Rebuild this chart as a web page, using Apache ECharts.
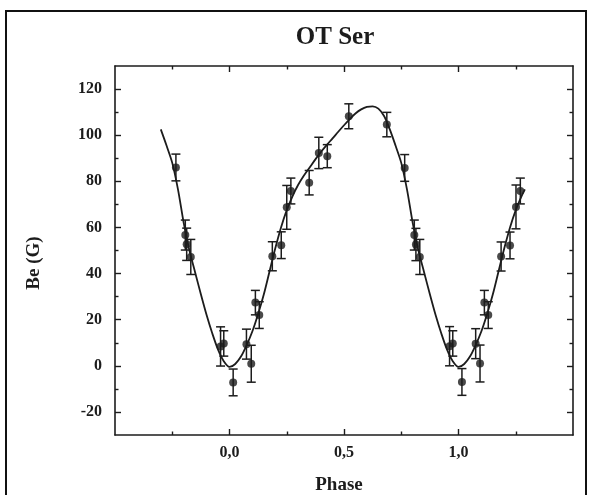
<!DOCTYPE html>
<html><head><meta charset="utf-8">
<script src="https://cdn.jsdelivr.net/npm/echarts@6/dist/echarts.min.js"></script>
<style>html,body{margin:0;padding:0;background:#fff}#c{width:589px;height:495px}</style>
</head><body><div id="c"></div>
<script>
// Measured points (phase, Be in G, error in G), as drawn (incl. repeated phases)
const pointPhase = [-0.234, -0.193, -0.187, -0.169, -0.039, -0.025,
  0.016, 0.074, 0.095, 0.113, 0.130, 0.187, 0.226, 0.250, 0.268, 0.348, 0.390, 0.427, 0.521, 0.687, 0.765, 0.807, 0.814, 0.831, 0.961, 0.975,
  1.015, 1.075, 1.094, 1.113, 1.130, 1.186, 1.225, 1.251, 1.270];
const pointBe = [86.0, 56.7, 52.7, 47.2, 8.4, 9.7,
  -7.2, 9.4, 0.9, 27.4, 22.0, 47.5, 52.3, 68.7, 75.8, 79.4, 92.3, 90.9, 108.2, 104.6, 85.8, 56.7, 52.6, 47.2, 8.5, 9.7,
  -7.0, 9.6, 1.0, 27.4, 22.0, 47.4, 52.2, 68.9, 75.8];
const pointErr = [5.8, 6.5, 7.0, 7.6, 8.5, 5.5,
  5.8, 6.5, 8.0, 5.3, 5.8, 6.3, 5.8, 9.5, 5.6, 5.3, 6.8, 5.0, 5.4, 5.3, 5.8, 6.5, 7.0, 7.6, 8.5, 5.5,
  5.8, 6.5, 8.0, 5.3, 5.8, 6.3, 5.8, 9.5, 5.6];
// Fitted curve
const curvePhase = [-0.300, -0.275, -0.250, -0.225, -0.200, -0.175, -0.150, -0.125, -0.100, -0.075, -0.050, -0.025,
  0.000, 0.025, 0.050, 0.075, 0.100, 0.125, 0.150, 0.175, 0.200, 0.225, 0.250, 0.275, 0.300, 0.325, 0.350, 0.375,
  0.400, 0.425, 0.450, 0.475, 0.500, 0.525, 0.550, 0.575, 0.600, 0.625, 0.650, 0.675, 0.700, 0.725, 0.750, 0.775,
  0.800, 0.825, 0.850, 0.875, 0.900, 0.925, 0.950, 0.975, 1.000, 1.025, 1.050, 1.075, 1.100, 1.125, 1.150, 1.175,
  1.200, 1.225, 1.250, 1.275, 1.290];
const curveBe = [102.5, 95.5, 88.0, 76.5, 62.0, 50.0, 40.5, 31.0, 22.0, 14.0, 7.0, 2.0,
  -0.5, 0.8, 4.0, 9.0, 15.0, 22.5, 31.0, 41.0, 51.0, 60.0, 67.5, 73.5, 78.5, 82.5, 86.0, 89.5,
  92.8, 95.8, 98.6, 101.5, 104.3, 107.0, 109.4, 111.2, 112.3, 112.5, 111.5, 108.3, 102.5, 95.5, 88.0, 76.5,
  62.0, 50.0, 40.5, 31.0, 22.0, 14.0, 7.0, 2.0, -0.5, 0.8, 4.0, 9.0, 15.0, 22.5, 31.0, 41.0,
  51.0, 60.0, 67.5, 73.5, 76.5];
// Ticks
const xTickValues = [0, 0.5, 1.0];
const xTickLabels = ['0,0', '0,5', '1,0'];
const xMinorTicks = [-0.25, 0.25, 0.75, 1.25];
const yTickValues = [-20, 0, 20, 40, 60, 80, 100, 120];
const yTickLabels = ['-20', '0', '20', '40', '60', '80', '100', '120'];
const yMinorTicks = [-10, 10, 30, 50, 70, 90, 110];

const FONT = 'Liberation Serif';
const INK = '#1c1c1c';

function xAxisDef(pos, ticks, len, withLine, withLabels) {
  return {
    type: 'value', position: pos, min: -0.5, max: 1.5,
    axisLine: {show: withLine, onZero: false, lineStyle: {color: INK, width: 1.6}},
    axisTick: {show: true, inside: true, length: len, customValues: ticks, lineStyle: {color: INK, width: 1.4}},
    axisLabel: withLabels ? {
      show: true, customValues: xTickValues, margin: 10,
      fontFamily: FONT, fontWeight: 'bold', fontSize: 16, color: INK,
      formatter: v => { const i = xTickValues.findIndex(t => Math.abs(t - v) < 1e-9); return i >= 0 ? xTickLabels[i] : ''; }
    } : {show: false},
    splitLine: {show: false}
  };
}
function yAxisDef(pos, ticks, len, withLine, withLabels) {
  return {
    type: 'value', position: pos, min: -30, max: 130,
    axisLine: {show: withLine, onZero: false, lineStyle: {color: INK, width: 1.6}},
    axisTick: {show: true, inside: true, length: len, customValues: ticks, lineStyle: {color: INK, width: 1.4}},
    axisLabel: withLabels ? {
      show: true, customValues: yTickValues, margin: 13,
      fontFamily: FONT, fontWeight: 'bold', fontSize: 16, color: INK,
      formatter: v => { const i = yTickValues.findIndex(t => Math.abs(t - v) < 1e-9); return i >= 0 ? yTickLabels[i] : ''; }
    } : {show: false},
    splitLine: {show: false}
  };
}

const chart = echarts.init(document.getElementById('c'), null, {renderer: 'canvas'});
chart.setOption({
  animation: false,
  backgroundColor: '#fff',
  grid: {left: 115, right: 16, top: 66, bottom: 60, containLabel: false},
  xAxis: [
    xAxisDef('bottom', xTickValues, 6, true, true),
    xAxisDef('bottom', xMinorTicks, 3.5, false, false),
    xAxisDef('top', xTickValues, 6, true, false),
    xAxisDef('top', xMinorTicks, 3.5, false, false)
  ],
  yAxis: [
    yAxisDef('left', yTickValues, 6, true, true),
    yAxisDef('left', yMinorTicks, 3.5, false, false),
    yAxisDef('right', yTickValues, 6, true, false),
    yAxisDef('right', yMinorTicks, 3.5, false, false)
  ],
  graphic: [
    {type: 'rect', shape: {x: 6, y: 11, width: 580, height: 520}, style: {fill: 'none', stroke: '#111', lineWidth: 2}, silent: true},
    {type: 'text', x: 335, y: 38, style: {text: 'OT Ser', font: 'bold 25px "Liberation Serif"', fill: INK, textAlign: 'center', textVerticalAlign: 'middle'}},
    {type: 'text', x: 339, y: 485, style: {text: 'Phase', font: 'bold 19px "Liberation Serif"', fill: INK, textAlign: 'center', textVerticalAlign: 'middle'}},
    {type: 'text', x: 34, y: 263, rotation: Math.PI / 2, style: {text: 'Be (G)', font: 'bold 19px "Liberation Serif"', fill: INK, textAlign: 'center', textVerticalAlign: 'middle'}}
  ],
  series: [
    {
      type: 'line', xAxisIndex: 0, yAxisIndex: 0,
      data: curvePhase.map((p, i) => [p, curveBe[i]]),
      showSymbol: false, smooth: 0.3, clip: false,
      lineStyle: {color: INK, width: 1.8}, z: 3
    },
    {
      type: 'custom', xAxisIndex: 0, yAxisIndex: 0,
      data: pointPhase.map((p, i) => [p, pointBe[i] - pointErr[i], pointBe[i] + pointErr[i]]),
      encode: {x: 0, y: [1, 2]},
      renderItem: (params, api) => {
        const x = api.value(0), lo = api.value(1), hi = api.value(2);
        const a = api.coord([x, hi]), b = api.coord([x, lo]);
        const cap = 4.5;
        const style = {stroke: INK, lineWidth: 1.5};
        return {type: 'group', children: [
          {type: 'line', shape: {x1: a[0], y1: a[1], x2: b[0], y2: b[1]}, style},
          {type: 'line', shape: {x1: a[0] - cap, y1: a[1], x2: a[0] + cap, y2: a[1]}, style},
          {type: 'line', shape: {x1: b[0] - cap, y1: b[1], x2: b[0] + cap, y2: b[1]}, style}
        ]};
      },
      z: 4
    },
    {
      type: 'scatter', xAxisIndex: 0, yAxisIndex: 0,
      data: pointPhase.map((p, i) => [p, pointBe[i]]),
      symbol: 'circle', symbolSize: 8,
      itemStyle: {color: INK}, z: 5
    }
  ]
});
</script>
</body></html>
